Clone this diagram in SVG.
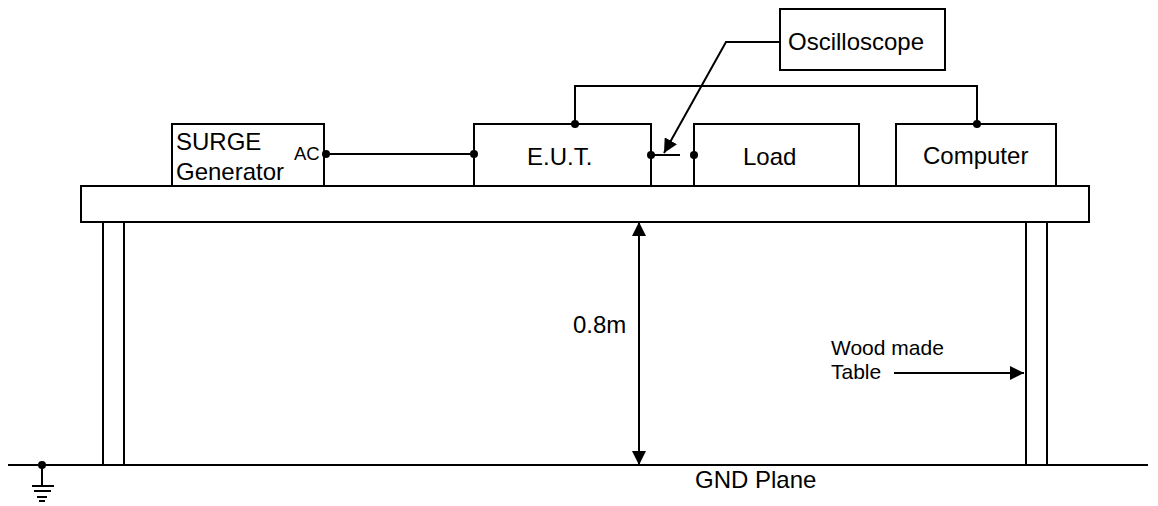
<svg xmlns="http://www.w3.org/2000/svg" width="1158" height="506" viewBox="0 0 1158 506">
<style>
.box{fill:#fff;stroke:#000;stroke-width:2}
.ln{fill:none;stroke:#000;stroke-width:2}
.t{font-family:"Liberation Sans",Arial,sans-serif;font-size:24px;fill:#000}
.s{font-family:"Liberation Sans",Arial,sans-serif;font-size:18.5px;fill:#000}
.m{font-family:"Liberation Sans",Arial,sans-serif;font-size:21px;fill:#000}
.dot{fill:#000}
</style>
<defs>
<marker id="ah" viewBox="0 0 14 14" refX="14" refY="7" markerWidth="14" markerHeight="14" markerUnits="userSpaceOnUse" orient="auto-start-reverse">
<path d="M0,0 L14,7 L0,14 Z" fill="#000"/>
</marker>
</defs>
<rect width="1158" height="506" fill="#fff"/>
<g id="table">
<rect class="box" x="81" y="186" width="1008" height="36"/>
<rect class="box" x="103" y="222" width="21" height="243"/>
<rect class="box" x="1026" y="222" width="21" height="243"/>
</g>
<g id="ground">
<line class="ln" x1="8" y1="465" x2="1148" y2="465"/>
<circle class="dot" cx="42" cy="465" r="4"/>
<line class="ln" x1="42" y1="465" x2="42" y2="486"/>
<line class="ln" x1="32" y1="486" x2="54" y2="486"/>
<line class="ln" x1="34" y1="491" x2="51" y2="491"/>
<line class="ln" x1="37" y1="497" x2="47" y2="497"/>
<line class="ln" x1="39" y1="501" x2="45" y2="501"/>
<text class="t" x="695" y="488">GND Plane</text>
</g>
<g id="surge">
<rect class="box" x="172" y="124" width="152" height="62"/>
<text class="t" x="176" y="150">SURGE</text>
<text class="t" x="176" y="180">Generator</text>
<text class="s" x="294" y="160">AC</text>
</g>
<g id="eut">
<rect class="box" x="474" y="124" width="177" height="62"/>
<text class="t" x="527" y="165">E.U.T.</text>
</g>
<g id="load">
<rect class="box" x="694" y="124" width="165" height="62"/>
<text class="t" x="743" y="165">Load</text>
</g>
<g id="computer">
<rect class="box" x="896" y="124" width="160" height="62"/>
<text class="t" x="923" y="164">Computer</text>
</g>
<g id="oscilloscope">
<rect class="box" x="780" y="9" width="165" height="61"/>
<text class="t" x="788" y="50">Oscilloscope</text>
</g>
<g id="labels">
<text class="t" x="573" y="333">0.8m</text>
<text class="m" x="831" y="355">Wood made</text>
<text class="m" x="831" y="379">Table</text>
</g>
<g id="connectors">
<line class="ln" x1="326" y1="154" x2="474" y2="154"/>
<polyline class="ln" points="575,124 575,86 977,86 977,124"/>
<line class="ln" x1="651" y1="155" x2="680" y2="155"/>
<polyline class="ln" points="780,42 726,42 664,153" marker-end="url(#ah)"/>
<line class="ln" x1="639" y1="222" x2="639" y2="465" marker-start="url(#ah)" marker-end="url(#ah)"/>
<line class="ln" x1="894" y1="373" x2="1024" y2="373" marker-end="url(#ah)"/>
<circle class="dot" cx="326" cy="154" r="4"/>
<circle class="dot" cx="474" cy="154" r="4"/>
<circle class="dot" cx="575" cy="124" r="4"/>
<circle class="dot" cx="651" cy="155" r="4"/>
<circle class="dot" cx="694" cy="155" r="4"/>
<circle class="dot" cx="977" cy="124" r="4"/>
</g>
</svg>
